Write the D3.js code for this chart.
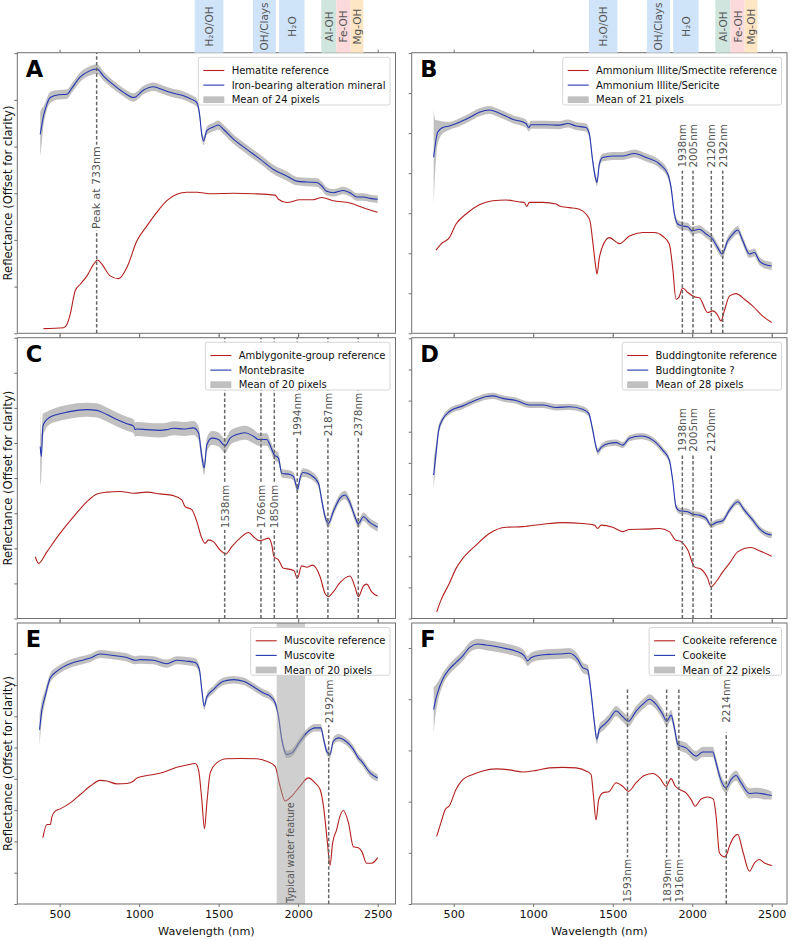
<!DOCTYPE html>
<html><head><meta charset="utf-8">
<script src="https://cdn.jsdelivr.net/npm/d3@7"></script>
<style>body{margin:0;background:#fff} svg{display:block} text{font-family:"DejaVu Sans",sans-serif}</style>
</head><body><svg id="c" width="792" height="940"></svg>
<script>
// ---------------- DATA (values in "offset reflectance" tick units) ----------------
const panelIds = ['A','B','C','D','E','F'];
const refNames = ['Hematite reference','Ammonium Illite/Smectite reference','Amblygonite-group reference','Buddingtonite reference','Muscovite reference','Cookeite reference'];
const mixNames = ['Iron-bearing alteration mineral','Ammonium Illite/Sericite','Montebrasite','Buddingtonite ?','Muscovite','Cookeite'];
const pixelCounts = [24,21,20,28,20,22];
const xTicks = [500,1000,1500,2000,2500];

const absorptionBands = [
  {name:'H₂O/OH', from:1350, to:1530, color:'#cfe3f9'},
  {name:'OH/Clays', from:1715, to:1860, color:'#cfe3f9'},
  {name:'H₂O', from:1880, to:2040, color:'#cfe3f9'},
  {name:'Al-OH', from:2145, to:2240, color:'#cfe5dd'},
  {name:'Fe-OH', from:2240, to:2330, color:'#fcdadb'},
  {name:'Mg-OH', from:2330, to:2410, color:'#fde6c4'}
];

const refA = [[399,0.1],[525,0.12],[546,0.19],[567,0.41],[598,0.91],[630,1.05],[672,1.23],[714,1.48],[739,1.57],[766,1.48],[818,1.23],[871,1.17],[923,1.41],[986,1.98],[1049,2.3],[1111,2.59],[1174,2.84],[1237,2.98],[1300,3.02],[1363,3.02],[1446,2.99],[1593,3.0],[1719,2.99],[1855,2.96],[1876,2.87],[1928,2.8],[2012,2.86],[2096,2.86],[2148,2.91],[2221,2.84],[2326,2.79],[2410,2.69],[2500,2.59]];
const mixA = [[378,4.26,0.48],[389,4.48,0.35],[399,4.66,0.2],[410,4.8,0.15],[441,5.05,0.12],[494,5.11,0.1],[546,5.12,0.1],[577,5.25,0.1],[630,5.49,0.1],[682,5.61,0.1],[735,5.66,0.1],[776,5.51,0.1],[839,5.32,0.09],[902,5.16,0.09],[965,5.05,0.09],[1028,5.21,0.09],[1090,5.28,0.09],[1153,5.21,0.09],[1216,5.14,0.09],[1279,5.09,0.09],[1331,5.01,0.09],[1363,4.94,0.09],[1380,4.69,0.09],[1394,4.26,0.09],[1405,4.12,0.09],[1426,4.34,0.09],[1467,4.42,0.09],[1499,4.46,0.1],[1530,4.37,0.1],[1593,4.16,0.1],[1677,3.94,0.1],[1761,3.73,0.1],[1844,3.51,0.1],[1928,3.37,0.1],[1991,3.26,0.09],[2054,3.24,0.09],[2117,3.23,0.09],[2148,3.16,0.09],[2179,3.04,0.09],[2221,3.01,0.08],[2284,3.06,0.08],[2326,3.01,0.08],[2368,2.92,0.08],[2410,2.92,0.08],[2452,2.89,0.08],[2500,2.87,0.08]];

const refB = [[389,2.08],[420,2.23],[473,2.39],[515,2.73],[578,2.98],[661,3.21],[745,3.31],[829,3.33],[913,3.28],[944,3.27],[959,3.17],[976,3.27],[1060,3.27],[1144,3.23],[1165,3.18],[1227,3.14],[1290,3.1],[1332,2.98],[1357,2.81],[1374,2.31],[1391,1.73],[1401,1.48],[1416,1.89],[1437,2.18],[1479,2.39],[1542,2.24],[1605,2.43],[1689,2.52],[1762,2.52],[1814,2.43],[1856,2.23],[1877,1.64],[1898,0.85],[1915,0.89],[1940,1.13],[1972,1.02],[2014,0.91],[2045,0.89],[2097,0.52],[2129,0.56],[2156,0.48],[2181,0.31],[2202,0.56],[2234,0.93],[2276,0.99],[2328,0.85],[2381,0.68],[2443,0.43],[2500,0.27]];
const mixB = [[374,4.4,1.2],[385,4.73,0.6],[399,5.02,0.3],[431,5.14,0.15],[473,5.18,0.1],[536,5.27,0.1],[599,5.39,0.1],[661,5.52,0.1],[724,5.58,0.1],[787,5.5,0.1],[871,5.35,0.1],[955,5.24,0.1],[972,5.14,0.1],[986,5.21,0.1],[1081,5.21,0.1],[1165,5.2,0.1],[1217,5.24,0.1],[1269,5.18,0.1],[1332,5.14,0.1],[1353,4.98,0.1],[1374,4.31,0.1],[1391,3.89,0.1],[1401,3.77,0.1],[1416,4.23,0.1],[1437,4.39,0.1],[1500,4.43,0.1],[1563,4.43,0.1],[1636,4.49,0.1],[1710,4.39,0.1],[1794,4.23,0.1],[1846,3.98,0.1],[1867,3.64,0.1],[1888,2.98,0.1],[1909,2.73,0.1],[1940,2.68,0.1],[1972,2.66,0.1],[1999,2.56,0.1],[2045,2.6,0.1],[2087,2.48,0.1],[2129,2.35,0.1],[2160,2.14,0.1],[2188,1.98,0.1],[2223,2.31,0.1],[2255,2.48,0.1],[2286,2.58,0.1],[2318,2.31,0.1],[2360,1.98,0.1],[2391,2.02,0.1],[2422,1.81,0.1],[2464,1.71,0.1],[2500,1.68,0.1]];

const refC = [[347,1.76],[368,1.57],[420,1.9],[504,2.43],[588,2.9],[672,3.33],[735,3.55],[797,3.6],[881,3.62],[965,3.57],[1049,3.6],[1132,3.55],[1216,3.5],[1268,3.38],[1289,3.19],[1331,3.1],[1363,2.76],[1394,2.29],[1415,2.14],[1436,2.24],[1467,2.19],[1509,1.95],[1545,1.84],[1583,2.05],[1635,2.29],[1687,2.45],[1729,2.29],[1756,2.22],[1781,2.24],[1813,2.29],[1834,2.1],[1848,1.76],[1876,1.67],[1907,1.43],[1949,1.4],[1974,1.36],[1995,1.14],[2022,1.5],[2054,1.46],[2091,1.52],[2138,1.19],[2169,0.71],[2190,0.62],[2221,0.76],[2263,1.02],[2326,1.21],[2357,0.9],[2378,0.62],[2410,0.92],[2431,0.98],[2462,0.76],[2500,0.64]];
const mixC = [[378,4.9,1.1],[385,4.62,0.6],[395,5.48,0.35],[410,5.62,0.25],[441,5.74,0.2],[483,5.81,0.2],[546,5.88,0.2],[609,5.93,0.2],[672,5.95,0.2],[735,5.93,0.2],[797,5.81,0.2],[860,5.67,0.2],[923,5.55,0.2],[965,5.48,0.2],[975,5.38,0.2],[986,5.4,0.2],[1049,5.38,0.2],[1132,5.36,0.2],[1174,5.38,0.2],[1216,5.42,0.2],[1279,5.4,0.2],[1342,5.43,0.2],[1373,5.29,0.2],[1394,4.62,0.2],[1409,4.29,0.2],[1426,4.95,0.2],[1457,5.14,0.2],[1499,5.1,0.2],[1541,4.92,0.2],[1572,5.14,0.2],[1614,5.24,0.2],[1666,5.29,0.2],[1719,5.19,0.2],[1752,5.1,0.18],[1802,5.1,0.18],[1827,4.9,0.15],[1848,4.67,0.15],[1876,4.57,0.15],[1897,4.14,0.12],[1950,4.1,0.12],[1970,4.05,0.12],[1997,3.69,0.12],[2012,4.0,0.12],[2029,4.16,0.12],[2075,4.1,0.12],[2127,3.86,0.12],[2148,3.38,0.12],[2169,2.9,0.12],[2190,2.71,0.12],[2221,3.05,0.12],[2263,3.43,0.12],[2295,3.52,0.12],[2326,3.29,0.12],[2357,2.9,0.12],[2378,2.7,0.12],[2410,2.9,0.12],[2452,2.73,0.12],[2500,2.6,0.12]];

const refD = [[393,0.21],[420,0.59],[473,1.13],[515,1.61],[557,1.93],[641,2.36],[724,2.73],[829,2.93],[934,2.95],[1060,3.03],[1186,3.08],[1311,3.05],[1385,3.0],[1406,2.89],[1427,3.0],[1500,2.93],[1563,2.79],[1605,2.86],[1710,2.87],[1794,2.89],[1856,2.79],[1894,2.52],[1929,2.47],[1972,2.2],[2014,1.66],[2056,1.58],[2097,1.29],[2118,1.02],[2150,1.18],[2192,1.5],[2234,1.77],[2286,2.14],[2370,2.28],[2422,2.18],[2500,2.0]];
const mixD = [[374,4.61,0.5],[389,5.31,0.3],[406,6.06,0.15],[431,6.4,0.1],[473,6.65,0.1],[557,6.83,0.1],[641,7.02,0.1],[704,7.13,0.1],[745,7.15,0.1],[808,7.07,0.1],[892,7.0,0.1],[976,6.86,0.1],[1060,6.86,0.1],[1144,6.78,0.1],[1227,6.8,0.1],[1311,6.72,0.1],[1349,6.59,0.1],[1374,6.06,0.1],[1395,5.52,0.1],[1406,5.36,0.1],[1427,5.5,0.1],[1479,5.63,0.1],[1521,5.65,0.1],[1563,5.57,0.1],[1605,5.79,0.1],[1678,5.86,0.1],[1752,5.73,0.1],[1814,5.41,0.1],[1856,5.09,0.1],[1877,4.45,0.1],[1898,3.59,0.1],[1919,3.46,0.1],[1972,3.43,0.1],[2003,3.35,0.1],[2045,3.32,0.1],[2087,3.22,0.1],[2118,3.0,0.1],[2150,3.08,0.1],[2192,3.14,0.1],[2234,3.48,0.1],[2286,3.75,0.1],[2328,3.48,0.1],[2381,3.16,0.1],[2422,2.89,0.1],[2464,2.73,0.1],[2500,2.68,0.1]];

const refE = [[395,2.12],[420,2.54],[441,2.54],[452,2.79],[473,2.97],[504,3.04],[567,3.23],[630,3.5],[693,3.77],[755,3.95],[797,3.93],[860,3.84],[923,3.85],[965,3.93],[986,4.03],[1070,4.12],[1153,4.21],[1237,4.37],[1300,4.44],[1352,4.49],[1373,4.3],[1394,3.34],[1411,2.4],[1426,3.23],[1447,4.19],[1488,4.51],[1551,4.64],[1635,4.65],[1740,4.64],[1802,4.56],[1855,4.4],[1886,3.77],[1918,3.29],[1960,3.45],[2012,3.77],[2064,4.03],[2106,3.87],[2138,3.66],[2159,3.13],[2184,1.96],[2200,1.23],[2217,1.96],[2242,2.38],[2263,2.81],[2284,2.99],[2316,2.6],[2347,1.83],[2378,1.8],[2399,1.69],[2431,1.3],[2462,1.3],[2500,1.48]];
const mixE = [[374,5.57,0.5],[389,6.21,0.3],[410,6.66,0.2],[441,7.22,0.15],[494,7.48,0.13],[567,7.68,0.13],[651,7.8,0.13],[693,7.86,0.13],[755,7.99,0.13],[839,7.94,0.13],[923,7.88,0.13],[975,7.79,0.13],[1007,7.81,0.13],[1090,7.79,0.13],[1174,7.68,0.13],[1237,7.79,0.13],[1300,7.76,0.13],[1352,7.72,0.13],[1379,7.49,0.13],[1394,6.85,0.12],[1409,6.32,0.12],[1426,6.62,0.12],[1467,6.85,0.12],[1530,7.12,0.12],[1593,7.17,0.12],[1656,7.12,0.12],[1719,6.94,0.12],[1782,6.74,0.12],[1823,6.64,0.12],[1855,6.43,0.12],[1876,6.0,0.12],[1897,5.26,0.12],[1928,4.78,0.12],[1960,4.83,0.12],[2012,5.2,0.12],[2064,5.52,0.12],[2106,5.63,0.12],[2142,5.63,0.12],[2163,5.2,0.12],[2179,4.88,0.12],[2200,4.78,0.12],[2221,5.2,0.12],[2253,5.31,0.12],[2284,5.26,0.12],[2347,4.94,0.12],[2378,4.67,0.12],[2399,4.56,0.12],[2452,4.19,0.12],[2500,4.03,0.12]];

const refF = [[393,1.32],[420,1.59],[448,1.85],[473,1.92],[515,2.24],[557,2.43],[620,2.53],[682,2.6],[766,2.64],[850,2.62],[934,2.58],[1018,2.61],[1102,2.66],[1186,2.67],[1269,2.66],[1332,2.6],[1364,2.53],[1379,2.11],[1395,1.64],[1412,2.04],[1437,2.17],[1479,2.2],[1521,2.37],[1563,2.3],[1599,2.2],[1647,2.37],[1699,2.51],[1752,2.55],[1794,2.47],[1836,2.3],[1867,2.45],[1894,2.3],[1919,2.24],[1961,2.17],[1993,2.04],[2018,1.91],[2056,2.05],[2097,2.09],[2133,2.05],[2150,1.72],[2171,1.0],[2202,0.92],[2217,0.97],[2234,1.13],[2286,1.36],[2318,1.03],[2360,0.64],[2391,0.8],[2422,0.87],[2454,0.8],[2500,0.75]];
const mixF = [[374,3.8,0.45],[385,3.97,0.3],[399,4.13,0.2],[431,4.39,0.12],[473,4.59,0.1],[515,4.72,0.1],[557,4.85,0.1],[599,5.01,0.1],[651,5.08,0.1],[703,5.06,0.1],[766,5.03,0.1],[829,4.99,0.1],[892,4.94,0.1],[944,4.85,0.1],[965,4.75,0.1],[986,4.81,0.1],[1039,4.86,0.1],[1123,4.88,0.1],[1186,4.89,0.1],[1227,4.9,0.1],[1280,4.78,0.1],[1311,4.62,0.1],[1343,4.57,0.1],[1364,4.13,0.1],[1385,3.54,0.1],[1400,3.22,0.1],[1416,3.41,0.1],[1448,3.51,0.1],[1479,3.61,0.1],[1521,3.77,0.1],[1563,3.66,0.1],[1599,3.57,0.1],[1647,3.77,0.1],[1699,3.93,0.1],[1731,4.0,0.1],[1773,3.9,0.1],[1814,3.71,0.1],[1840,3.57,0.1],[1867,3.69,0.1],[1888,3.44,0.1],[1909,3.12,0.1],[1961,3.05,0.1],[2024,2.89,0.1],[2066,2.97,0.1],[2129,2.97,0.1],[2150,2.76,0.1],[2175,2.47,0.1],[2213,2.27,0.1],[2244,2.43,0.1],[2276,2.51,0.1],[2307,2.37,0.1],[2360,2.16,0.1],[2401,2.17,0.1],[2464,2.14,0.1],[2500,2.12,0.08]];

const markersA = [733], markerLabelsA = ['Peak at 733nm'];
const markersB = [1938,2005,2120,2192];
const markersC = [1538,1766,1850,1994,2187,2378];
const markersD = [1938,2005,2120];
const markersE = [2192];
const markersF = [1593,1839,1916,2214];
const waterFeature = {from:1865, to:2043, label:'Typical water feature'};

// ---------------- LAYOUT ----------------
const COLS = [{x0:17.3, x1:395.5, dom:[234,2612]}, {x0:411.7, x1:787, dom:[236,2596]}];
const ROWS = [[52.7,333.3],[337.7,618.5],[623,904]];
const yMaxes = [6.01, 7.01, 8.0, 9.02, 8.98, 5.49];
const markerPlacement = [
  [{mode:'middle', at:3.12, top:6.01}],
  [0,1,2,3].map(()=>({mode:'start', at:4.14, top:4.06})),
  [{mode:'start',at:2.57,top:8},{mode:'start',at:2.57,top:8},{mode:'start',at:2.57,top:8},{mode:'start',at:5.19,top:8},{mode:'start',at:5.19,top:8},{mode:'start',at:5.19,top:8}],
  [0,1,2].map(()=>({mode:'start', at:5.36, top:5.3})),
  [{mode:'start', at:5.78, top:5.72}],
  [{mode:'start',at:0.03,top:4.23},{mode:'start',at:0.03,top:4.23},{mode:'start',at:0.03,top:4.23},{mode:'start',at:3.54,top:3.35}]
];
const refs = [refA,refB,refC,refD,refE,refF];
const mixes = [mixA,mixB,mixC,mixD,mixE,mixF];
const markers = [markersA,markersB,markersC,markersD,markersE,markersF];

const RED = '#b3201f', BLUE = '#2436b2', BAND = '#c0c0c0', SPINE = '#707070', LABEL = '#555';

const svg = d3.select('#c');

panelIds.forEach((id, i) => {
  const col = COLS[i % 2], row = ROWS[Math.floor(i / 2)];
  const x = d3.scaleLinear().domain(col.dom).range([col.x0, col.x1]);
  const y = d3.scaleLinear().domain([0, yMaxes[i]]).range([row[1], row[0]]);
  const g = svg.append('g');
  const clipId = 'clip' + id;
  svg.append('clipPath').attr('id', clipId).append('rect')
    .attr('x', col.x0).attr('y', row[0]).attr('width', col.x1 - col.x0).attr('height', row[1] - row[0]);
  const plot = g.append('g').attr('clip-path', `url(#${clipId})`);

  // absorption band labels above the top row
  if (i < 2) {
    absorptionBands.forEach(b => {
      svg.append('rect').attr('x', x(b.from)).attr('y', 0).attr('width', x(b.to) - x(b.from))
        .attr('height', row[0]).attr('fill', b.color);
      svg.append('text').attr('transform', `translate(${(x(b.from)+x(b.to))/2},26.5) rotate(-90)`)
        .attr('text-anchor','middle').attr('dominant-baseline','central')
        .attr('font-size', 10.5).attr('fill', LABEL).text(b.name);
    });
  }

  const curve = d3.curveMonotoneX;
  plot.append('path').datum(mixes[i])
    .attr('d', d3.area().x(d => x(d[0])).y0(d => y(d[1] - d[2])).y1(d => y(d[1] + d[2])).curve(curve))
    .attr('fill', BAND);
  plot.append('path').datum(refs[i])
    .attr('d', d3.line().x(d => x(d[0])).y(d => y(d[1])).curve(curve))
    .attr('fill', 'none').attr('stroke', RED).attr('stroke-width', 1.1);
  plot.append('path').datum(mixes[i])
    .attr('d', d3.line().x(d => x(d[0])).y(d => y(d[1])).curve(curve))
    .attr('fill', 'none').attr('stroke', BLUE).attr('stroke-width', 1.1);

  if (id === 'E') {
    plot.append('rect').attr('x', x(waterFeature.from)).attr('y', row[0])
      .attr('width', x(waterFeature.to) - x(waterFeature.from)).attr('height', row[1] - row[0])
      .attr('fill', 'rgb(160,160,160)').attr('fill-opacity', 0.5);
    plot.append('text')
      .attr('transform', `translate(${(x(waterFeature.from)+x(waterFeature.to))/2},${y(0.03)}) rotate(-90)`)
      .attr('text-anchor','start').attr('dominant-baseline','central')
      .attr('font-size', 9.6).attr('fill', LABEL).text(waterFeature.label);
  }

  // dashed marker lines
  markers[i].forEach((wl, k) => {
    const pl = markerPlacement[i][k];
    plot.append('line').attr('x1', x(wl)).attr('x2', x(wl)).attr('y1', y(0)).attr('y2', y(pl.top))
      .attr('stroke', '#666').attr('stroke-width', 1.5).attr('stroke-dasharray', '3.5,2.2');
  });
  markers[i].forEach((wl, k) => {
    const pl = markerPlacement[i][k];
    const lbl = id === 'A' ? markerLabelsA[k] : wl + 'nm';
    const tg = plot.append('g').attr('transform', `translate(${x(wl)},${y(pl.at)}) rotate(-90)`);
    const r = tg.append('rect').attr('fill', '#fff');
    const t = tg.append('text').attr('text-anchor', pl.mode).attr('dominant-baseline','central')
      .attr('font-size', id === 'A' ? 11 : 10.5).attr('fill', LABEL).text(lbl);
    const bb = t.node().getBBox();
    r.attr('x', bb.x - 1.5).attr('y', bb.y).attr('width', bb.width + 3).attr('height', bb.height);
  });

  // spines & ticks
  g.append('rect').attr('x', col.x0).attr('y', row[0]).attr('width', col.x1 - col.x0).attr('height', row[1] - row[0])
    .attr('fill', 'none').attr('stroke', SPINE).attr('stroke-width', 1);
  const isBottom = i >= 4;
  const xb = g.append('g').attr('transform', `translate(0,${row[1]})`)
    .call(d3.axisBottom(x).tickValues(xTicks).tickSize(3).tickFormat(isBottom ? d3.format('d') : ''));
  const xt = g.append('g').attr('transform', `translate(0,${row[0]})`)
    .call(d3.axisTop(x).tickValues(xTicks).tickSize(3).tickFormat(''));
  const yl = g.append('g').attr('transform', `translate(${col.x0},0)`)
    .call(d3.axisLeft(y).tickValues(d3.range(0, Math.floor(yMaxes[i] + 1e-6) + 1)).tickSize(3).tickFormat(''));
  [xb, xt, yl].forEach(a => {
    a.select('.domain').remove();
    a.selectAll('.tick line').attr('stroke', SPINE);
    a.selectAll('.tick text').attr('font-family', '"DejaVu Sans",sans-serif').attr('font-size', 11.2).attr('fill', '#111');
  });
  if (isBottom) {
    xb.selectAll('.tick text').attr('y', 6.5).attr('dy', '0.71em');
    g.append('text').attr('x', (col.x0 + col.x1) / 2).attr('y', 935).attr('text-anchor','middle')
      .attr('font-size', 11.2).attr('fill', '#111').text('Wavelength (nm)');
  }
  if (i % 2 === 0) {
    g.append('text').attr('transform', `translate(8,${(row[0]+row[1])/2}) rotate(-90)`)
      .attr('text-anchor','middle').attr('dominant-baseline','central')
      .attr('font-size', 11.6).attr('fill', '#111').text('Reflectance (Offset for clarity)');
  }

  // panel letter
  g.append('text').attr('x', col.x0 + 8.5).attr('y', row[0] + 24).attr('font-size', 22.5)
    .attr('font-weight', 'bold').attr('fill', '#000').text(id);

  // legend
  const lg = g.append('g');
  const box = lg.append('rect');
  const names = [refNames[i], mixNames[i], `Mean of ${pixelCounts[i]} pixels`];
  const texts = names.map((n, k) => lg.append('text').attr('font-size', 10).attr('fill', '#111').text(n));
  const tw = d3.max(texts, t => t.node().getComputedTextLength());
  const w = 33.3 + tw + 4.5, h = 47.7;
  const lx = col.x1 - 5.5 - w, ly = row[0] + 4.6;
  box.attr('x', lx).attr('y', ly).attr('width', w).attr('height', h).attr('rx', 2)
    .attr('fill', '#fff').attr('fill-opacity', 1).attr('stroke', '#cccccc').attr('stroke-width', 0.8);
  const rowsY = [13.2, 27.8, 42.4];
  texts.forEach((t, k) => t.attr('x', lx + 33.3).attr('y', ly + rowsY[k] + 3.6));
  lg.append('line').attr('x1', lx + 5).attr('x2', lx + 26).attr('y1', ly + rowsY[0]).attr('y2', ly + rowsY[0])
    .attr('stroke', RED).attr('stroke-width', 1.1);
  lg.append('line').attr('x1', lx + 5).attr('x2', lx + 26).attr('y1', ly + rowsY[1]).attr('y2', ly + rowsY[1])
    .attr('stroke', BLUE).attr('stroke-width', 1.1);
  lg.append('rect').attr('x', lx + 5).attr('y', ly + rowsY[2] - 3.4).attr('width', 21).attr('height', 6.8)
    .attr('fill', BAND);
});
</script></body></html>
